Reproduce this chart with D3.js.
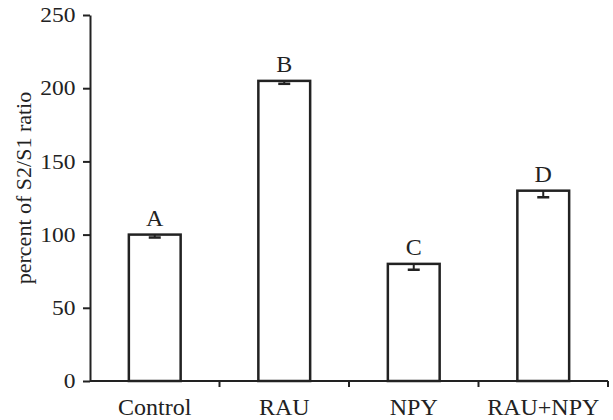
<!DOCTYPE html>
<html>
<head>
<meta charset="utf-8">
<script src="https://cdn.jsdelivr.net/npm/d3@7"></script>
<style>
  body { margin: 0; background: #fff; }
  svg text { font-family: "Liberation Serif", "Times New Roman", serif; fill: #222; }
</style>
</head>
<body>
<div id="chart"></div>
<script>
const categories = ['Control', 'RAU', 'NPY', 'RAU+NPY'];
const values = [100, 205, 80, 130];
const errors = [2, 2, 4, 4.5];
const letters = ['A', 'B', 'C', 'D'];
const yTicks = [0, 50, 100, 150, 200, 250];

const width = 613, height = 420;
const margin = { top: 15, right: 5, bottom: 39, left: 90 };

const svg = d3.select('#chart').append('svg')
  .attr('width', width)
  .attr('height', height);

const x = d3.scaleBand()
  .domain(categories)
  .range([margin.left, width - margin.right])
  .paddingInner(0.6)
  .paddingOuter(0.3);

const y = d3.scaleLinear()
  .domain([0, 250])
  .range([height - margin.bottom, margin.top]);

// y axis
const yAxis = svg.append('g')
  .attr('transform', `translate(${margin.left},0)`)
  .call(d3.axisLeft(y).tickValues(yTicks).tickSize(7).tickPadding(6).tickSizeOuter(0));
yAxis.attr('font-family', null).attr('font-size', null);
yAxis.select('.domain').attr('stroke', '#222').attr('stroke-width', 2);
yAxis.selectAll('.tick line').attr('stroke', '#222').attr('stroke-width', 2);
yAxis.selectAll('.tick text')
  .attr('fill', '#222')
  .style('font-size', '21px')
  .attr('transform', 'scale(1.12,1)');

// x axis: ticks between categories
const step = x.step();
const bounds = categories.map(c => x(c) - step * 0.3 + step);
const xAxisG = svg.append('g').attr('transform', `translate(0,${y(0)})`);
xAxisG.append('line')
  .attr('x1', margin.left).attr('x2', width - margin.right)
  .attr('stroke', '#222').attr('stroke-width', 2);
xAxisG.selectAll('line.tk').data(bounds).join('line')
  .attr('class', 'tk')
  .attr('x1', d => d).attr('x2', d => d)
  .attr('y1', 0).attr('y2', 6)
  .attr('stroke', '#222').attr('stroke-width', 2);
xAxisG.selectAll('text').data(categories).join('text')
  .attr('x', d => x(d) + x.bandwidth() / 2)
  .attr('y', 34)
  .attr('text-anchor', 'middle')
  .style('font-size', '24px')
  .text(d => d);

// bars
svg.selectAll('rect.bar').data(categories).join('rect')
  .attr('class', 'bar')
  .attr('x', d => x(d))
  .attr('y', (d, i) => y(values[i]))
  .attr('width', x.bandwidth())
  .attr('height', (d, i) => y(0) - y(values[i]))
  .attr('fill', '#fff')
  .attr('stroke', '#222')
  .attr('stroke-width', 2.5);

// error bars (lower half visible)
const eb = svg.selectAll('g.err').data(categories).join('g').attr('class', 'err');
eb.append('line')
  .attr('x1', d => x(d) + x.bandwidth() / 2)
  .attr('x2', d => x(d) + x.bandwidth() / 2)
  .attr('y1', (d, i) => y(values[i]))
  .attr('y2', (d, i) => y(values[i] - errors[i]))
  .attr('stroke', '#222').attr('stroke-width', 2);
eb.append('line')
  .attr('x1', d => x(d) + x.bandwidth() / 2 - 6)
  .attr('x2', d => x(d) + x.bandwidth() / 2 + 6)
  .attr('y1', (d, i) => y(values[i] - errors[i]))
  .attr('y2', (d, i) => y(values[i] - errors[i]))
  .attr('stroke', '#222').attr('stroke-width', 2.5);

// letters
svg.selectAll('text.letter').data(categories).join('text')
  .attr('class', 'letter')
  .attr('x', d => x(d) + x.bandwidth() / 2)
  .attr('y', (d, i) => y(values[i]) - 9)
  .attr('text-anchor', 'middle')
  .style('font-size', '24px')
  .text((d, i) => letters[i]);

// y title
svg.append('text')
  .attr('transform', 'translate(31,188) rotate(-90)')
  .attr('text-anchor', 'middle')
  .style('font-size', '22px')
  .text('percent of S2/S1 ratio');
</script>
</body>
</html>
